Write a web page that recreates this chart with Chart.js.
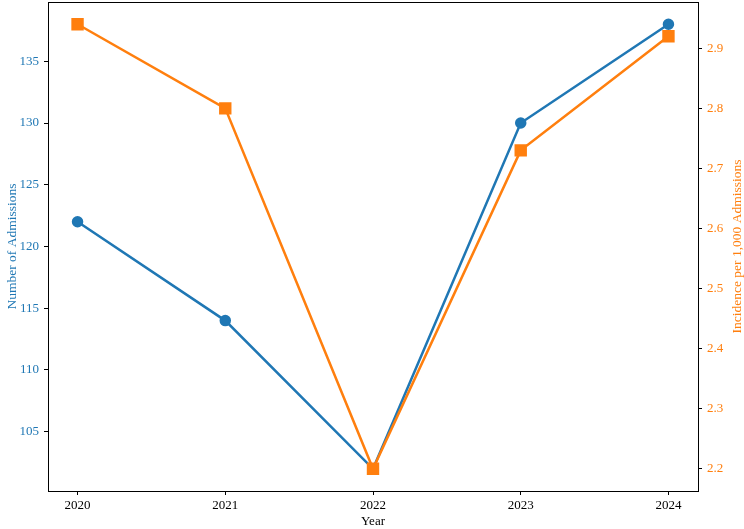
<!DOCTYPE html>
<html>
<head>
<meta charset="utf-8">
<script src="https://cdn.jsdelivr.net/npm/chart.js@4/dist/chart.umd.min.js"></script>
<style>
html,body{margin:0;padding:0;background:#fff;}
#wrap{width:744px;height:529px;}
</style>
</head>
<body>
<div id="wrap"><canvas id="c" width="744" height="529"></canvas></div>
<script>
const years = [2020, 2021, 2022, 2023, 2024];
const admissions = [122, 114, 102, 130, 138];
const incidence = [2.94, 2.80, 2.20, 2.73, 2.92];
const leftTicks = [105, 110, 115, 120, 125, 130, 135];
const rightTicks = [2.2, 2.3, 2.4, 2.5, 2.6, 2.7, 2.8, 2.9];
const rightTitle = 'Incidence per 1,000 Admissions';

const BLUE = '#1f77b4', ORANGE = '#ff7f0e';
const FONT = "'Liberation Serif', 'Times New Roman', serif";

const frame = {
  id: 'frame',
  afterDatasetsDraw(chart) {
    const {ctx, chartArea: a} = chart;
    ctx.save();
    ctx.strokeStyle = '#000';
    ctx.lineWidth = 1;
    ctx.strokeRect(a.left + 0.5, a.top + 0.5, a.right - a.left, a.bottom - a.top);
    ctx.restore();
  },
  afterDraw(chart) {
    const {ctx, chartArea: a} = chart;
    ctx.save();
    ctx.translate(chart.width - 7, (a.top + a.bottom) / 2);
    ctx.rotate(-Math.PI / 2);
    ctx.fillStyle = ORANGE;
    ctx.font = '13.5px ' + FONT;
    ctx.textAlign = 'center';
    ctx.textBaseline = 'middle';
    ctx.fillText(rightTitle, 0, 0);
    ctx.restore();
  }
};

function fitY(w) {
  return ax => { ax.width = w; ax.paddingTop = 0; ax.paddingBottom = 0; };
}

new Chart(document.getElementById('c'), {
  type: 'line',
  data: {
    datasets: [
      {
        label: 'Incidence',
        data: years.map((y, i) => ({x: y, y: incidence[i]})),
        yAxisID: 'y2',
        borderColor: ORANGE,
        backgroundColor: ORANGE,
        borderWidth: 2.5,
        pointStyle: 'rect',
        pointRadius: 7,
        pointHoverRadius: 7,
        order: 1
      },
      {
        label: 'Admissions',
        data: years.map((y, i) => ({x: y, y: admissions[i]})),
        yAxisID: 'y',
        borderColor: BLUE,
        backgroundColor: BLUE,
        borderWidth: 2.5,
        pointStyle: 'circle',
        pointRadius: 4.5,
        pointHoverRadius: 4.5,
        order: 2
      }
    ]
  },
  options: {
    responsive: false,
    animation: false,
    layout: {autoPadding: false, padding: {top: 2, left: 0, right: 0, bottom: 0}},
    plugins: {legend: {display: false}, tooltip: {enabled: false}},
    scales: {
      x: {
        type: 'linear',
        min: 2019.8,
        max: 2024.2,
        afterBuildTicks: ax => { ax.ticks = years.map(v => ({value: v})); },
        afterFit: ax => { ax.height = 38; ax.paddingLeft = 0; ax.paddingRight = 0; },
        grid: {drawOnChartArea: false, drawTicks: true, tickLength: 4, color: '#000'},
        border: {display: false},
        ticks: {color: '#000', font: {family: FONT, size: 13}, padding: 3, callback: v => String(v), maxRotation: 0},
        title: {display: true, text: 'Year', color: '#000', font: {family: FONT, size: 13}, padding: {top: 0, bottom: 0}}
      },
      y: {
        type: 'linear',
        position: 'left',
        min: 100.2,
        max: 139.8,
        afterBuildTicks: ax => { ax.ticks = leftTicks.map(v => ({value: v})); },
        afterFit: fitY(48),
        grid: {drawOnChartArea: false, drawTicks: true, tickLength: 4, color: '#000'},
        border: {display: false},
        ticks: {color: BLUE, font: {family: FONT, size: 13}, padding: 5},
        title: {display: true, text: 'Number of Admissions', color: BLUE, font: {family: FONT, size: 13.5}, padding: {top: 4, bottom: 0}}
      },
      y2: {
        type: 'linear',
        position: 'right',
        min: 2.163,
        max: 2.977,
        afterBuildTicks: ax => { ax.ticks = rightTicks.map(v => ({value: v})); },
        afterFit: fitY(46),
        grid: {drawOnChartArea: false, drawTicks: true, tickLength: 4, color: '#000'},
        border: {display: false},
        ticks: {color: ORANGE, font: {family: FONT, size: 13}, padding: 5, callback: v => v.toFixed(1)},
        title: {display: false}
      }
    }
  },
  plugins: [frame]
});
</script>
</body>
</html>
